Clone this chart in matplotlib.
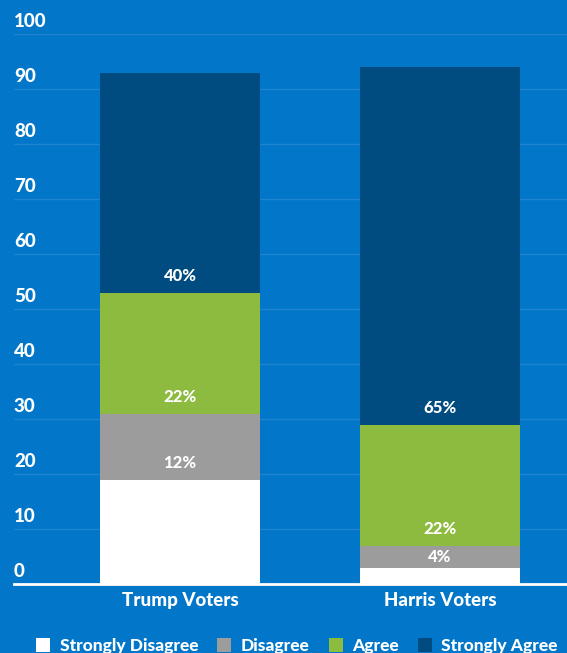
import matplotlib
matplotlib.use("Agg")
import matplotlib.pyplot as plt
import matplotlib.transforms as mtransforms
from matplotlib.patches import Patch

plt.rcParams['font.family'] = ['Lato', 'DejaVu Sans']
WEIGHT = "black"

groups = ["Trump Voters", "Harris Voters"]
series = ["Strongly Disagree", "Disagree", "Agree", "Strongly Agree"]
values = {
    "Strongly Disagree": [19, 3],
    "Disagree": [12, 4],
    "Agree": [22, 22],
    "Strongly Agree": [40, 65],
}
show_label = {
    "Strongly Disagree": [False, False],
    "Disagree": [True, True],
    "Agree": [True, True],
    "Strongly Agree": [True, True],
}
colors = {
    "Strongly Disagree": "#FFFFFF",
    "Disagree": "#9C9C9C",
    "Agree": "#8DBB40",
    "Strongly Agree": "#004B80",
}
yticks = [0, 10, 20, 30, 40, 50, 60, 70, 80, 90, 100]

BG = "#0277C9"
GRID = "#1F83CF"

W, H = 567, 653
fig = plt.figure(figsize=(W / 100, H / 100), dpi=100, facecolor=BG)
ax = fig.add_axes([14 / W, 1 - 584 / H, 1 - 14 / W, (584 - 34) / H])
ax.set_facecolor(BG)
for s in ax.spines.values():
    s.set_visible(False)

x = list(range(len(groups)))
width = 160 / 260
bottoms = [0] * len(groups)
for name in series:
    vals = values[name]
    ax.bar(x, vals, width, bottom=bottoms, color=colors[name], zorder=3, linewidth=0)
    for i, v in enumerate(vals):
        if show_label[name][i]:
            ypos = bottoms[i] + min(3.0, v / 2)
            ax.text(x[i], ypos, f"{v}%", ha="center", va="center",
                    color="white", fontsize=12, fontweight=WEIGHT, zorder=5)
    bottoms = [b + v for b, v in zip(bottoms, vals)]

ax.set_xlim((14 - 180) / 260, (567 - 180) / 260)
ax.set_ylim(0, 100)

for t in yticks:
    if t > 0:
        ax.axhline(t, color=GRID, lw=1, zorder=1)
ax.axhline(0, color="white", lw=2, zorder=4, clip_on=False)

trans = mtransforms.offset_copy(ax.get_yaxis_transform(), fig=fig, x=0, y=3, units="points")
for t in yticks:
    ax.text(0, t, str(t), transform=trans, ha="left", va="bottom",
            color="white", fontsize=13.5, fontweight=WEIGHT, clip_on=False)

ax.set_yticks([])
ax.set_xticks(x)
ax.set_xticklabels(groups, color="white", fontsize=13.5, fontweight=WEIGHT)
ax.tick_params(axis="x", length=0, pad=6)

handles = [Patch(facecolor=colors[n], edgecolor="none", label=n) for n in series]
leg = fig.legend(handles=handles, loc="center", ncol=4,
                 bbox_to_anchor=(297 / W, 1 - 646 / H), frameon=False,
                 handlelength=0.8, handleheight=0.8, handletextpad=0.55,
                 columnspacing=1.1, borderaxespad=0,
                 prop={"weight": WEIGHT, "size": 12.5})
for txt in leg.get_texts():
    txt.set_color("white")

fig.savefig("out.png", dpi=100, facecolor=BG)
